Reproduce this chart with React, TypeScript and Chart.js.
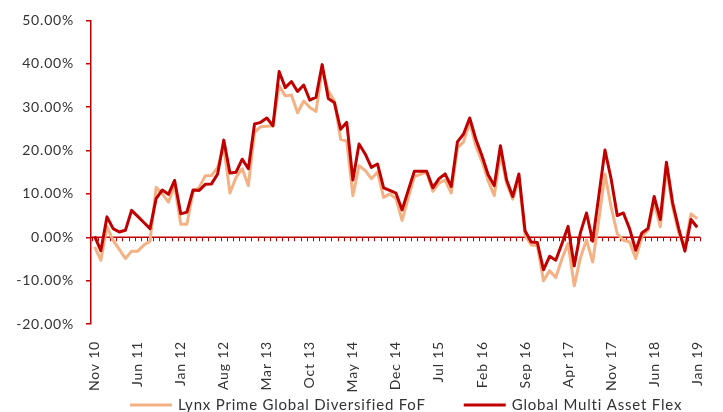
import React, { useEffect, useRef } from 'react';
import { Chart, registerables } from 'chart.js';

Chart.register(...registerables);

// ---- Data -------------------------------------------------------------
const MONTHS = ['Jan', 'Feb', 'Mar', 'Apr', 'May', 'Jun', 'Jul', 'Aug', 'Sep', 'Oct', 'Nov', 'Dec'];
// Monthly categories Nov 10 ... Jan 19 (99 months)
const categories: string[] = [];
for (let i = 0; i < 99; i++) {
  const m = (10 + i) % 12;
  const yr = 10 + Math.floor((10 + i) / 12);
  categories.push(`${MONTHS[m]} ${String(yr).padStart(2, '0')}`);
}
// Labelled ticks every 7 months
const tickLabels = ['Nov 10', 'Jun 11', 'Jan 12', 'Aug 12', 'Mar 13', 'Oct 13', 'May 14', 'Dec 14', 'Jul 15', 'Feb 16', 'Sep 16', 'Apr 17', 'Nov 17', 'Jun 18', 'Jan 19'];

const lynxPrime = [
  -2.2, -5.3, 2.4, -0.7, -2.8, -4.9, -3.2, -3.2, -1.8, -0.9,
  11.5, 10.0, 8.1, 12.0, 3.0, 3.0, 10.5, 11.5, 14.2, 14.2,
  16.1, 20.9, 10.2, 13.8, 15.8, 11.9, 24.2, 25.5, 25.6, 25.7,
  34.9, 32.6, 32.8, 28.7, 31.4, 29.9, 29.0, 38.7, 33.7, 31.4,
  22.6, 22.2, 9.6, 16.5, 15.4, 13.5, 15.0, 9.2, 10.0, 8.9,
  3.9, 9.0, 14.0, 14.5, 15.0, 10.6, 12.5, 13.2, 10.2, 20.6,
  22.0, 26.5, 21.0, 17.5, 13.0, 9.6, 19.2, 12.4, 8.8, 13.5,
  0.5, -1.8, -1.9, -10.0, -7.7, -9.3, -5.0, -1.4, -11.2, -4.8,
  -0.6, -5.7, 4.0, 14.6, 7.0, 0.8, -0.7, -1.1, -4.9, 0.1,
  1.6, 8.1, 2.4, 15.8, 7.0, 1.0, -2.2, 5.4, 4.3,
];

const globalMultiAsset = [
  0.2, -3.1, 4.7, 2.0, 1.2, 1.6, 6.2, 4.8, 3.4, 2.0,
  8.9, 10.9, 9.9, 13.1, 5.4, 5.8, 10.9, 10.8, 12.2, 12.3,
  14.6, 22.4, 14.8, 15.0, 18.0, 15.8, 26.1, 26.5, 27.5, 25.7,
  38.2, 34.5, 35.9, 33.6, 35.1, 31.6, 32.3, 39.8, 32.0, 31.0,
  24.9, 26.5, 13.2, 21.5, 19.2, 16.1, 16.9, 11.4, 10.8, 10.2,
  6.3, 10.8, 15.2, 15.2, 15.2, 11.4, 13.5, 14.6, 11.7, 22.0,
  23.8, 27.5, 22.6, 18.8, 14.4, 11.9, 21.1, 13.2, 9.4, 14.6,
  1.5, -1.1, -1.2, -7.5, -4.4, -5.3, -1.5, 2.5, -6.6, 1.0,
  5.6, -0.9, 9.5, 20.1, 13.5, 5.0, 5.6, 2.0, -3.0, 1.0,
  2.0, 9.4, 4.1, 17.3, 8.0, 2.0, -3.2, 4.1, 2.3,
];

const seriesNames = ['Lynx Prime Global Diversified FoF', 'Global Multi Asset Flex'];
const yTicks = [-20, -10, 0, 10, 20, 30, 40, 50];

// ---- Style ------------------------------------------------------------
const RED = '#C00000';
const ORANGE = '#F4B183';
const TEXT = '#333333';
const FONT = 'Lato, "Open Sans", sans-serif';

const spacingPlugin = {
  id: 'spacing',
  beforeDraw(chart: any) {
    (chart.ctx as any).letterSpacing = '0.8px';
  },
};

const zeroLinePlugin = {
  id: 'zeroLine',
  beforeDatasetsDraw(chart: any) {
    const { ctx, chartArea, scales } = chart;
    const x = scales.x;
    const y = scales.y;
    const y0 = y.getPixelForValue(0);
    ctx.save();
    ctx.strokeStyle = RED;
    ctx.lineWidth = 1.5;
    ctx.beginPath();
    ctx.moveTo(chartArea.left, y0);
    ctx.lineTo(chartArea.right, y0);
    ctx.stroke();
    ctx.lineWidth = 1;
    ctx.beginPath();
    for (let i = 0; i <= categories.length; i++) {
      const px = Math.round(x.getPixelForValue(i - 0.5)) + 0.5;
      ctx.moveTo(px, y0);
      ctx.lineTo(px, y0 + 4);
    }
    ctx.stroke();
    ctx.restore();
  },
};

const legendPlugin = {
  id: 'lineLegend',
  afterDraw(chart: any) {
    const { ctx, chartArea } = chart;
    const datasets = chart.data.datasets;
    ctx.save();
    ctx.font = `15px ${FONT}`;
    (ctx as any).letterSpacing = '0.8px';
    const lineW = 42;
    const gap = 6;
    const itemGap = 38;
    const widths = datasets.map((d: any) => lineW + gap + ctx.measureText(d.label).width);
    let x = chartArea.left + 39;
    const yMid = chart.height - 7;
    datasets.forEach((d: any, i: number) => {
      ctx.strokeStyle = d.borderColor;
      ctx.lineWidth = 3;
      ctx.beginPath();
      ctx.moveTo(x, yMid);
      ctx.lineTo(x + lineW, yMid);
      ctx.stroke();
      ctx.fillStyle = TEXT;
      ctx.textAlign = 'left';
      ctx.textBaseline = 'middle';
      ctx.fillText(d.label, x + lineW + gap, yMid);
      x += widths[i] + itemGap;
    });
    ctx.restore();
  },
};

export default function App() {
  const canvasRef = useRef<HTMLCanvasElement | null>(null);

  useEffect(() => {
    if (!canvasRef.current) return;
    const chart = new Chart(canvasRef.current, {
      type: 'line',
      data: {
        datasets: [
          {
            label: seriesNames[0],
            data: lynxPrime.map((v, i) => ({ x: i, y: v })),
            borderColor: ORANGE,
            backgroundColor: ORANGE,
            borderWidth: 3,
            pointRadius: 0,
            tension: 0,
            borderJoinStyle: 'round',
            order: 1,
          },
          {
            label: seriesNames[1],
            data: globalMultiAsset.map((v, i) => ({ x: i, y: v })),
            borderColor: RED,
            backgroundColor: RED,
            borderWidth: 3,
            pointRadius: 0,
            tension: 0,
            borderJoinStyle: 'round',
            order: 0,
          },
        ],
      },
      options: {
        animation: false,
        responsive: true,
        maintainAspectRatio: false,
        layout: {
          autoPadding: false,
          padding: { left: 0, top: 19, right: 4.7, bottom: 0 },
        } as any,
        plugins: {
          legend: { display: false },
          tooltip: { enabled: false },
        },
        scales: {
          x: {
            type: 'linear',
            min: -0.6,
            max: 98.5,
            afterBuildTicks: (scale: any) => {
              scale.ticks = tickLabels.map((t) => ({ value: categories.indexOf(t) }));
            },
            afterFit: (scale: any) => {
              scale.height = 88;
            },
            grid: { display: false },
            border: { display: false },
            ticks: {
              autoSkip: false,
              minRotation: 90,
              maxRotation: 90,
              padding: 9,
              color: TEXT,
              font: { family: FONT, size: 14 },
              callback: (v: any) => categories[v] ?? '',
            },
          },
          y: {
            min: yTicks[0],
            max: yTicks[yTicks.length - 1],
            afterBuildTicks: (scale: any) => {
              scale.ticks = yTicks.map((v) => ({ value: v }));
            },
            afterFit: (scale: any) => {
              scale.width = 91;
            },
            grid: {
              display: true,
              drawOnChartArea: false,
              drawTicks: true,
              tickLength: 5,
              color: RED,
              lineWidth: 1.5,
            },
            border: { display: true, color: RED, width: 1.5 },
            ticks: {
              padding: 12,
              color: TEXT,
              font: { family: FONT, size: 14 },
              callback: (v: any) => `${Number(v).toFixed(2)}%`,
            },
          },
        },
      },
      plugins: [spacingPlugin, zeroLinePlugin, legendPlugin],
    });
    return () => chart.destroy();
  }, []);

  return (
    <div style={{ position: 'absolute', left: 0, top: 0, width: 723, height: 412, background: '#fff' }}>
      <canvas ref={canvasRef} />
    </div>
  );
}
